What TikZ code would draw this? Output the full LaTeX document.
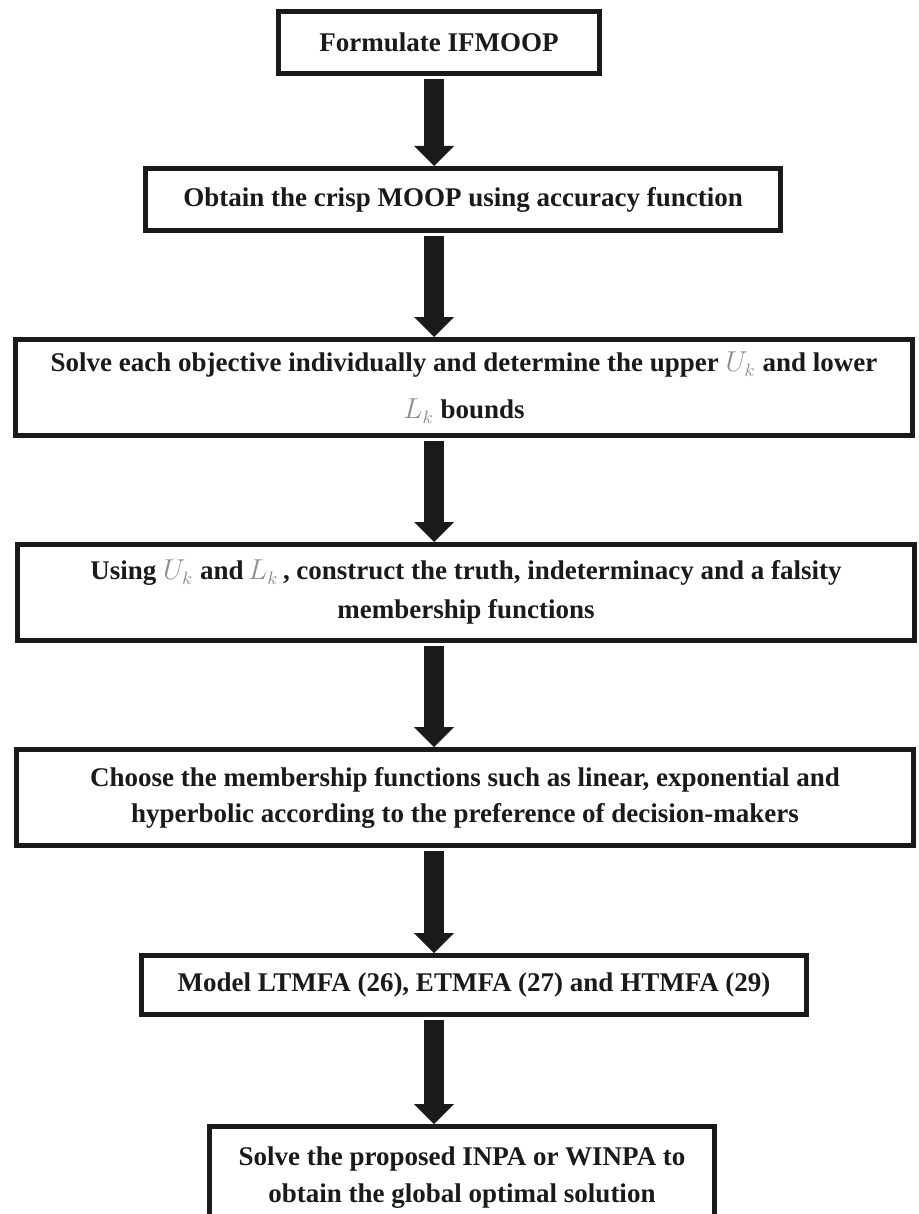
\documentclass[tikz,border=0pt]{standalone}
\usepackage{fontspec}
\setmainfont{Liberation Serif}
\usepackage{xcolor}
\usepackage{tikz}
\usetikzlibrary{arrows.meta,positioning}

\definecolor{inkblack}{HTML}{1A1A1A}
\definecolor{boundgray}{HTML}{8E8E8E}
\newcommand{\bnd}[1]{{\color{boundgray}$#1_{k}$}}

\tikzset{
    stepbox/.style={
        draw=inkblack,
        line width=2.5pt,
        align=center,
        inner sep=0pt,
        text=inkblack,
        font=\bfseries\fontsize{13.5}{#1}\selectfont
    },
    stepbox/.default=18,
    flowarrow/.style={
        draw=inkblack,
        line width=10pt,
        shorten <=1.5pt,
        -{Triangle[width=20pt,length=10pt,line width=0pt]}
    }
}

\begin{document}
\begin{tikzpicture}[x=0.5pt,y=-0.5pt]
                \useasboundingbox (0,0) rectangle (919,1214);

                % the boxes, top to bottom
                \node[
                    stepbox,
                    minimum width=160.5pt,
                    minimum height=31pt
                    ] (formulate) at (439,42.5) {Formulate IFMOOP};

                \node[
                    stepbox,
                    minimum width=317.5pt,
                    minimum height=31pt
                    ] (crisp) at (463,199.5) {Obtain the crisp MOOP using accuracy function};

                \node[
                    stepbox=23.5,
                    minimum width=448.5pt,
                    minimum height=48pt
                    ] (bounds) at (464,387.5) {Solve each objective individually and determine the upper \bnd{U} and lower\\ \bnd{L} bounds};

                \node[
                    stepbox=19.5,
                    minimum width=448.5pt,
                    minimum height=48pt
                    ] (construct) at (466,592.5) {Using \bnd{U} and\,\bnd{L}\,, construct the truth, indeterminacy and a falsity\\ membership functions};

                \node[
                    stepbox,
                    minimum width=448.5pt,
                    minimum height=48pt
                    ] (choose) at (465,797.5) {Choose the membership functions such as linear, exponential and\\ hyperbolic according to the preference of decision-makers};

                \node[
                    stepbox,
                    minimum width=332.5pt,
                    minimum height=29.5pt
                    ] (model) at (474,985) {Model LTMFA (26), ETMFA (27) and HTMFA (29)};

                \node[
                    stepbox=18.5,
                    minimum width=252.5pt,
                    minimum height=51.5pt
                    ] (solve) at (462,1178) {Solve the proposed INPA or WINPA to\\ obtain the global optimal solution};

                % the arrows all run down one line
                \coordinate (axis) at (434,0);

                \draw[flowarrow] (formulate.south -| axis) to (crisp.north -| axis);
                \draw[flowarrow] (crisp.south -| axis) to (bounds.north -| axis);
                \draw[flowarrow] (bounds.south -| axis) to (construct.north -| axis);
                \draw[flowarrow] (construct.south -| axis) to (choose.north -| axis);
                \draw[flowarrow] (choose.south -| axis) to (model.north -| axis);
                \draw[flowarrow] (model.south -| axis) to (solve.north -| axis);

\end{tikzpicture}
\end{document}
